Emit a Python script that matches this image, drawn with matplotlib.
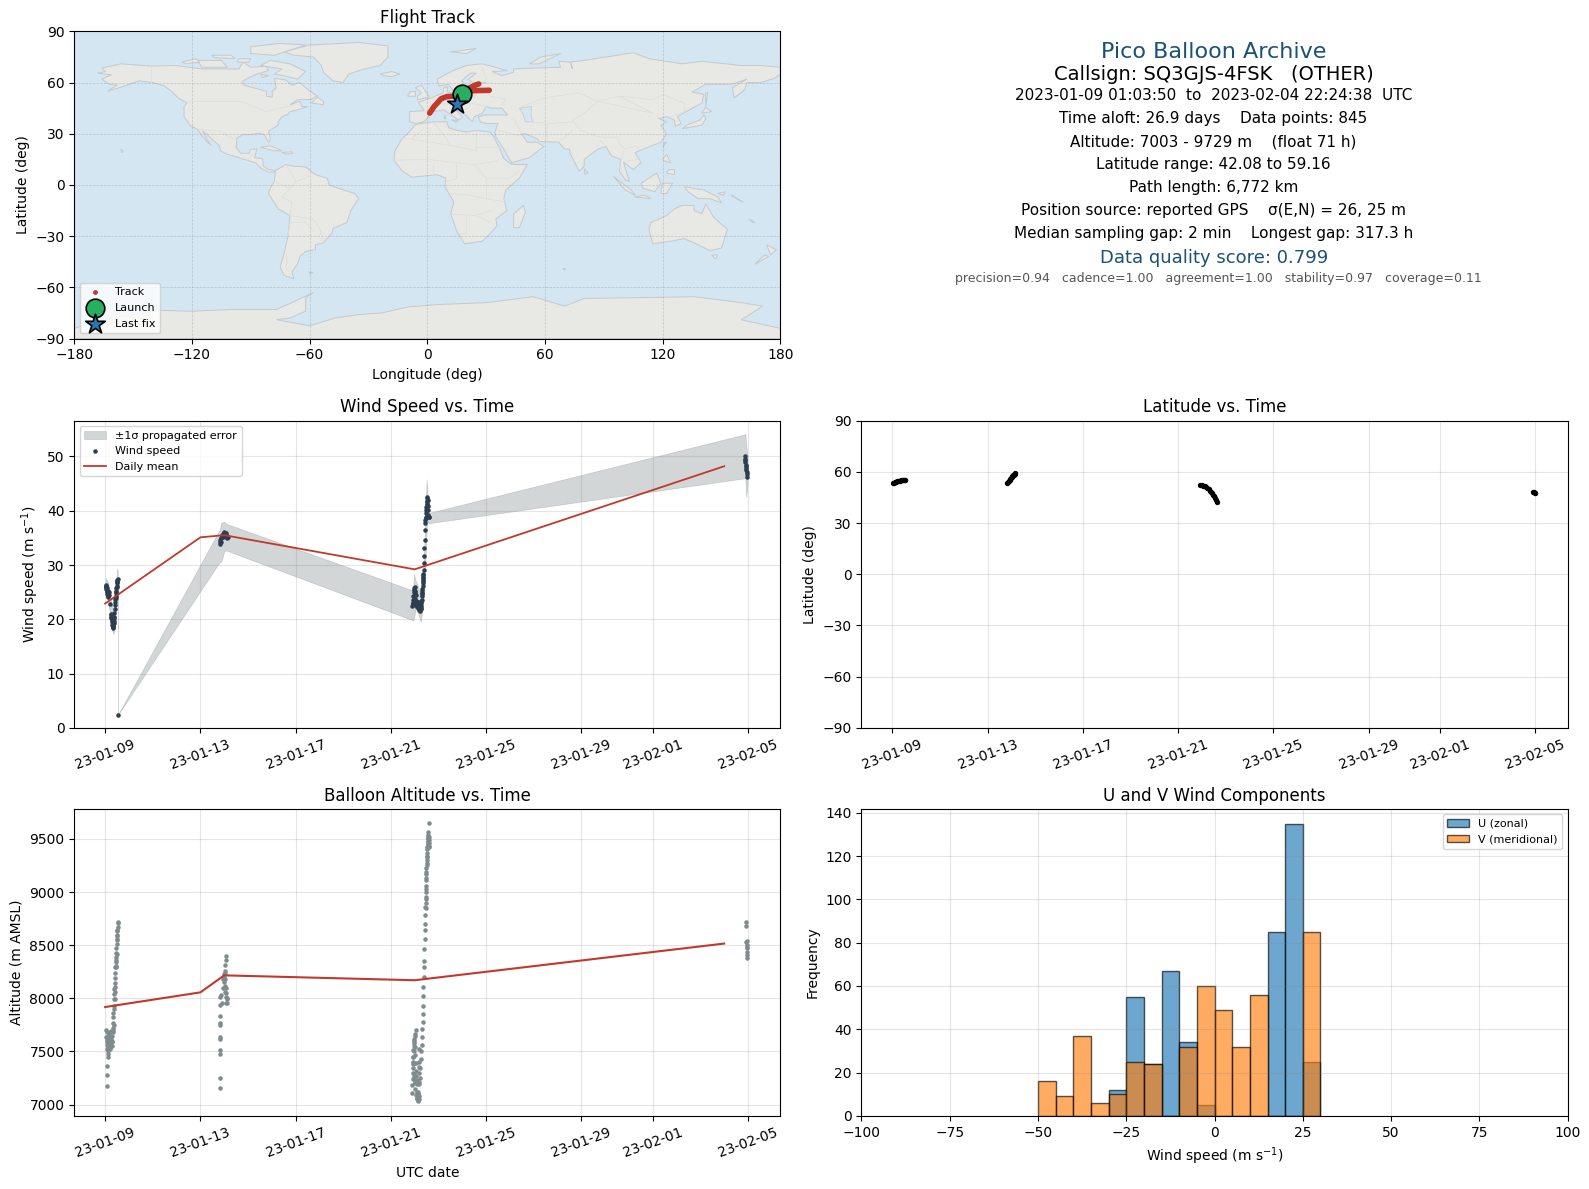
from datetime import datetime
import numpy as np
import matplotlib
matplotlib.use("Agg")
import matplotlib.pyplot as plt
import matplotlib.dates as mdates

# days since 2023-01-09 00:00 UTC
T0 = mdates.date2num(datetime(2023, 1, 9))

wind_t = [.02, .03, .04, .05, .06, .07, .08, .09, .1, .11, .12, .13, .14, .16, .2,
          .23, .24, .25, .26, .27, .28, .29, .3, .31, .32, .33, .34, .35, .36, .37,
          .38, .39, .4, .41, .42, .43, .44, .45, .46, .47, .48, .49, .5, .51, .52, .54,
          4.81, 4.82, 4.83, 4.85, 4.86, 4.88, 4.9, 4.92, 4.94, 4.96, 4.98, 5.0, 5.01, 5.03, 5.05,
          5.06, 5.08, 5.09, 5.1, 5.11, 5.13, 5.15,
          12.9, 12.91, 12.92, 12.93, 12.94, 12.95, 12.96, 12.97, 12.98, 12.99, 13.0, 13.01, 13.02,
          13.03, 13.04, 13.05, 13.06, 13.08, 13.1, 13.12, 13.14, 13.16, 13.18, 13.2, 13.22, 13.24,
          13.25, 13.26, 13.27, 13.28, 13.29, 13.3, 13.31, 13.32, 13.33, 13.34, 13.35, 13.36, 13.37,
          13.38, 13.39, 13.4, 13.41, 13.42, 13.43, 13.44, 13.45, 13.46, 13.47, 13.48, 13.49, 13.5,
          13.51, 13.52, 13.53, 13.54, 13.56, 13.58, 13.6,
          26.86, 26.87, 26.88, 26.89, 26.9, 26.91, 26.92, 26.93, 26.94, 26.95, 26.96,
          12.98, 13.0, 12.97, 12.95, 13.02, 13.05, 13.08, 13.11, 13.15, 13.17, 13.19, 13.21, 13.23,
          13.27, 13.29, 13.3, 13.33, 13.34, 13.36, 13.52, 13.53, 13.5, 13.48, 13.55, 13.57, 13.59,
          .3, .33, .35, .38, .05, .1, .14, .16, .44, .46, .48, .5]
wind_v = [26.3, 26.1, 25.9, 25.5, 25.7, 25.2, 25.0, 24.6, 24.3, 24.6, 24.1, 24.8, 25.0, 24.4, 22.9,
          20.7, 20.9, 20.2, 20.5, 19.8, 19.5, 20.1, 19.0, 19.3, 18.7, 18.4, 18.9, 18.5, 19.6, 20.3,
          20.5, 21.2, 21.9, 22.6, 23.1, 23.8, 24.3, 24.8, 25.3, 25.7, 26.2, 26.6, 27.0, 27.3, 27.4, 2.4,
          33.9, 34.2, 34.6, 34.3, 34.9, 35.0, 35.3, 35.6, 35.2, 35.8, 35.4, 35.9, 36.0, 35.5, 35.7,
          35.2, 35.6, 35.9, 35.3, 35.0, 35.4, 35.2,
          22.4, 23.0, 22.6, 23.5, 22.9, 24.2, 23.3, 25.0, 24.1, 25.8, 24.6, 26.0, 23.8,
          25.3, 23.1, 24.4, 22.6, 23.0, 22.3, 22.9, 22.2, 23.1, 22.5, 22.0, 21.8, 21.6,
          21.9, 22.4, 22.1, 23.0, 23.6, 24.2, 24.9, 25.6, 26.1, 26.7, 27.2, 27.7, 28.4,
          29.0, 30.4, 31.7, 33.2, 34.7, 36.5, 37.8, 38.3, 38.9, 39.5, 40.1, 40.7, 41.3,
          41.8, 42.3, 42.6, 42.0, 40.8, 39.2, 38.9,
          50.0, 49.6, 49.3, 48.9, 48.5, 48.2, 47.9, 47.6, 47.2, 46.8, 46.3,
          25.4, 25.1, 24.2, 23.0, 24.7, 23.3, 22.6, 23.2, 22.4, 21.8, 21.7, 22.2, 22.0,
          23.4, 24.6, 25.3, 27.0, 27.6, 28.1, 41.0, 41.7, 39.0, 38.6, 40.2, 39.0, 38.8,
          20.6, 19.8, 19.2, 19.4, 26.0, 25.3, 24.4, 25.0, 24.0, 25.0, 25.9, 26.8]

band_t = [.02, .12, .2, .28, .36, .42, .5, .53, .54, 4.82, 4.88, 5.0, 5.08,
          12.93, 12.97, 13.05, 13.15, 13.26, 13.35, 13.45, 13.5, 13.53, 13.6,
          26.89, 26.93, 26.98]
band_low = [24.5, 23.5, 21.0, 18.0, 17.3, 19.5, 24.5, 25.0, 2.4, 30.6, 30.6, 32.5, 32.7,
            19.8, 20.2, 22.0, 21.0, 19.5, 23.0, 30.0, 36.0, 38.0, 37.7,
            46.0, 42.5, 45.0]
band_high = [27.6, 26.8, 25.0, 22.5, 20.8, 24.0, 29.3, 29.0, 2.4, 36.6, 37.8, 38.0, 37.6,
             25.3, 28.3, 27.0, 26.0, 23.5, 28.0, 38.0, 45.8, 44.0, 39.6,
             54.1, 52.0, 50.0]

mean_t = [0, 4, 5, 13, 26]
wind_mean = [22.9, 35.1, 35.5, 29.2, 48.2]
alt_mean = [7918, 8056, 8216, 8170, 8515]

alt_t = [.08, .08, .08, .1, .12, .04, .05, .06, .07, .08, .09, .1, .11, .12, .13, .14, .15, .16, .17, .18,
         .19, .2, .21, .22, .24, .26, .28, .3, .31, .32, .33, .34, .35, .36, .37, .38, .39, .4, .41, .42,
         .43, .44, .45, .46, .47, .48, .49, .5, .51, .52, .53, .48, .5, .52, .49,
         4.83, 4.83, 4.83, 4.83, 4.83, 4.83, 4.83, 4.83, 4.83, 4.83, 4.84, 4.86, 4.9, 4.94, 4.96, 4.98,
         5.0, 5.01, 5.02, 5.03, 5.04, 5.05, 5.06, 5.07, 5.08, 5.09, 5.1, 5.11, 5.12, 5.03, 5.05, 5.07, 5.06,
         12.9, 12.9, 12.91, 12.92, 12.93, 12.94, 12.95, 12.96, 12.97, 12.98, 12.99, 13.0, 13.01, 13.02,
         13.03, 13.04, 13.05, 13.06, 13.07, 13.08, 13.09, 13.1, 13.11, 13.12, 13.13, 13.14, 13.15, 13.16,
         13.17, 13.18, 13.2, 13.22, 13.24, 13.26, 13.28, 13.3, 13.31, 13.32, 13.33, 13.34, 13.35, 13.36,
         13.37, 13.38, 13.39, 13.4, 13.41, 13.42, 13.43, 13.44, 13.45, 13.46, 13.47, 13.48, 13.49, 13.5,
         13.51, 13.52, 13.53, 13.54, 13.55, 13.56, 13.57, 13.58, 13.59, 13.6, 13.61, 13.6, 13.59,
         26.91, 26.92, 26.93, 26.94, 26.95, 26.95, 26.96, 26.96, 26.97, 26.97,
         13.46, 13.47, 13.46, 13.45, 13.47, 13.48, 13.48, 13.49, 13.49, 13.5, 13.5, 13.52, 13.52, 13.54,
         13.55, 13.55, 13.56, 13.57, 13.6, 13.58,
         13.0, 12.98, 12.97, 12.96, 12.95, 12.93, 12.92, 12.99, 13.02, 13.03, 13.05, 13.1, 13.12, 13.13,
         13.15, 13.17, 13.18, 13.19, 13.2, 13.2,
         .45, .46, .47, .48, .43, .42, .4, .38, .36, .34, .3, .27, .22, .15, .1, .07]
alt_v = [7179, 7282, 7367, 7450, 7480, 7700, 7640, 7560, 7680, 7610, 7520, 7650, 7590, 7540, 7620, 7500, 7560, 7670, 7590, 7530,
         7640, 7550, 7680, 7580, 7690, 7620, 7550, 7600, 7680, 7720, 7770, 7820, 7860, 7930, 7990, 8040, 8090, 8140, 8190, 8240,
         8290, 8340, 8390, 8430, 8470, 8510, 8550, 8590, 8630, 8670, 8710, 8560, 8640, 8720, 8600,
         7160, 7254, 7480, 7517, 7620, 7640, 7745, 7770, 7830, 7940, 8012, 8030, 7960, 8100, 8180, 8230,
         8200, 8150, 8240, 8120, 8180, 8060, 8100, 8010, 7960, 8050, 7990, 8000, 7960, 8260, 8310, 8360, 8400,
         7110, 7180, 7400, 7450, 7340, 7240, 7510, 7390, 7580, 7290, 7620, 7200, 7540, 7660,
         7470, 7270, 7700, 7390, 7320, 7230, 7120, 7190, 7060, 7040, 7100, 7030, 7060, 7120,
         7050, 7080, 7190, 7250, 7340, 7430, 7500, 7560, 7640, 7710, 7780, 7850, 7930, 8020,
         8110, 8200, 8290, 8350, 8460, 8560, 8640, 8700, 8860, 8950, 9030, 9110, 9190, 9270,
         9330, 9370, 9420, 9450, 9480, 9510, 9540, 9560, 9430, 9650, 9460, 9520, 9490,
         8720, 8680, 8530, 8500, 8470, 8440, 8410, 8380, 8540, 8480,
         8850, 8900, 8930, 8780, 9000, 9060, 9130, 9170, 9230, 9250, 9300, 9340, 9400, 9430,
         9470, 9510, 9530, 9450, 9420, 9500,
         7650, 7600, 7550, 7500, 7450, 7380, 7300, 7260, 7210, 7150, 7090, 7050, 7075, 7040,
         7100, 7210, 7300, 7350, 7400, 7520,
         8300, 8360, 8290, 8420, 8060, 8110, 7990, 7900, 7750, 7700, 7650, 7590, 7520, 7640, 7620, 7590]

lat_t = [.04, .08, .12, .16, .2, .24, .28, .32, .36, .4, .44, .48, .52, .55,
         4.83, 4.86, 4.89, 4.92, 4.95, 4.98, 5.01, 5.04, 5.07, 5.1, 5.13, 5.15,
         12.93, 12.99, 13.05, 13.11, 13.17, 13.23, 13.29, 13.34, 13.39, 13.43, 13.47, 13.51, 13.55, 13.59, 13.63,
         26.92, 26.95, 26.97, 26.98]
lat_v = [53.2, 53.5, 53.8, 54.0, 54.4, 54.6, 54.8, 54.9, 55.1, 55.2, 55.3, 55.4, 55.4, 55.5,
         53.5, 54.0, 54.6, 55.2, 55.8, 56.4, 57.0, 57.5, 58.0, 58.4, 58.8, 59.1,
         52.3, 52.1, 51.9, 51.5, 51.0, 50.5, 49.8, 49.0, 48.2, 47.4, 46.6, 45.6, 44.7, 43.6, 42.1,
         48.1, 47.9, 47.7, 47.5]

# three flight legs seen on the map
leg1_lon = [18.7, 21.5, 25.0, 29.0, 31.6]
leg1_lat = [55.0, 55.2, 55.3, 55.4, 55.5]
leg2_lon = [21.0, 23.0, 25.0, 26.2]
leg2_lat = [56.5, 57.7, 58.7, 59.2]
leg3_lon = [17.5, 13.5, 10.0, 7.0, 5.5, 3.5, 1.2]
leg3_lat = [52.3, 52.0, 51.8, 50.5, 48.5, 46.0, 42.1]
launch_lon, launch_lat = 17.5, 53.2
last_lon, last_lat = 15.0, 47.4

u_counts = [12, 55, 24, 67, 34, 5, 0, 0, 0, 85, 135, 25]
u_edges = [-30, -25, -20, -15, -10, -5, 0, 5, 10, 15, 20, 25]
v_counts = [16, 9, 37, 6, 10, 25, 24, 0, 32, 60, 49, 32, 56, 0, 0, 85]
v_edges = [-50, -45, -40, -35, -30, -25, -20, -15, -10, -5, 0, 5, 10, 15, 20, 25]

north_america = [(-164, 66.5), (-166, 68.5), (-156, 71), (-141, 69.7), (-128, 70), (-115, 68), (-108, 68), (-96, 68), (-94, 72),
                 (-90, 69), (-82, 69.5), (-81, 67), (-87, 65), (-94, 61), (-94, 58.7), (-88, 56.7), (-82, 55), (-82, 52),
                 (-79, 51.5), (-79, 55), (-77, 57), (-78, 62.5), (-72, 61.5), (-69, 58.5), (-65, 60), (-61, 56), (-56, 52),
                 (-60, 50), (-66, 50), (-70, 47), (-65, 49), (-64, 46), (-61, 46), (-66, 44), (-70, 43), (-71, 41.5), (-74, 40),
                 (-76, 37), (-76, 35), (-81, 31.5), (-80, 27), (-80.5, 25), (-82, 27), (-83, 29.5), (-86, 30.3), (-90, 29.5),
                 (-94, 29.5), (-97, 27.5), (-97.5, 22), (-95, 18.5), (-91, 18.5), (-90, 21), (-87, 21), (-88, 16), (-84, 15.5),
                 (-83.5, 11), (-81, 9), (-77.5, 8.5), (-78, 7.5), (-81, 7.5), (-85, 10), (-87.5, 13), (-92, 14.5), (-96, 16),
                 (-102, 18), (-105.5, 20), (-106, 23), (-109, 26), (-112.5, 30), (-114.5, 31.5), (-112, 26), (-110, 23),
                 (-112, 25), (-115, 29), (-117, 32.5), (-120.5, 34.5), (-122.5, 37.5), (-124, 40), (-124, 46), (-122.5, 48),
                 (-127, 51), (-130, 54.5), (-134, 58), (-140, 60), (-147, 61), (-152, 59), (-157, 57), (-163, 55), (-158, 58.5),
                 (-162, 59), (-166, 62), (-161, 64.5), (-168, 65.5)]
south_america = [(-77.3, 8.5), (-72, 12), (-68, 11), (-62, 10.5), (-57, 6), (-51, 4), (-50, 0), (-44, -2.5), (-37, -5),
                 (-35, -8), (-39, -15), (-41, -22), (-48, -25.5), (-48.5, -28), (-53, -34), (-57, -35), (-57, -38),
                 (-62, -39), (-65, -42), (-66, -46), (-69, -51), (-68, -55), (-73, -53), (-75, -48), (-73, -40),
                 (-71, -30), (-70, -18), (-76, -14), (-81, -5), (-80, -2), (-78, 2), (-77.5, 7)]
africa = [(-6, 35.5), (3, 37), (10, 37), (11, 33.5), (15, 32), (20, 31), (25, 32), (32, 31), (34, 28), (37, 21), (39, 15.5), (43, 12),
          (51, 12), (47, 4), (40, -3), (39, -8), (40.5, -15), (35, -20), (35.5, -24), (32.5, -28), (28, -33), (19, -34.5),
          (15, -27), (12, -17), (13.5, -10), (9, -1), (9.5, 4), (5, 6), (-4, 5), (-8, 4.5), (-13, 8.5), (-17, 14.5),
          (-16.5, 20), (-13, 27), (-10, 30)]
eurasia = [(-9, 37), (-9, 43), (-1.5, 43.5), (-4.5, 48.5), (2, 51), (8, 54), (8.5, 57), (10.5, 57.5), (10, 54.5), (14, 54),
           (19, 54.5), (21, 57), (24, 58), (24, 59.5), (30, 60), (23, 60), (21, 62), (25, 65.5), (22, 65.5), (17.5, 61),
           (18.5, 60), (16, 56), (13, 55.5), (11, 59), (6, 58), (5, 62), (13, 67), (20, 70), (28, 71), (41, 67), (33, 66.5),
           (38, 64), (44, 66), (44, 68), (54, 68.5), (68, 69), (67, 72.5), (73, 72), (74, 68), (73, 72), (80, 73),
           (105, 77.5), (113, 74), (130, 71), (140, 72.5), (160, 70), (170, 70), (180, 69), (180, 65), (177, 62.5),
           (170, 60), (163, 60), (162, 56), (156.5, 51), (155.5, 57), (163, 62), (155, 59), (142, 59), (135, 54.5),
           (141, 53), (140, 48), (132, 43), (127.5, 40), (129.5, 36), (126.5, 34.5), (126, 38), (122, 40), (118, 39),
           (122, 37), (119, 35), (122, 30), (119, 25), (110, 21), (106, 19), (109, 13), (105, 9), (100, 13.5), (103, 2),
           (101, 3), (98, 8), (98.5, 15), (94, 17), (91, 22.5), (87, 21), (80, 15), (80, 11), (77.5, 8), (73, 18),
           (72.5, 21), (70, 21), (67, 25), (57, 25.5), (56, 27), (50, 30), (48, 30), (51, 25), (56, 25), (59.5, 22.5), (52, 16),
           (43, 13), (39, 21), (35, 28), (34.5, 31), (36, 36), (30, 36), (27, 37), (26, 40), (29, 41), (41, 41), (38, 45),
           (33, 45), (30, 46), (28, 42), (24, 40), (23, 37), (19.5, 41), (13, 45.5), (18, 40), (16, 38), (8.5, 44),
           (3, 43), (0, 39), (-2, 37), (-5.5, 36)]
antarctica = [(-180, -90), (-180, -84), (-160, -78), (-136, -73.5), (-120, -74), (-100, -73), (-85, -73), (-77, -73),
              (-70, -69.5), (-58, -63), (-62, -66), (-62, -74), (-70, -78), (-77, -79), (-60, -82.5), (-47, -78),
              (-35, -76), (-23, -75), (-10, -71.5), (7, -70), (30, -69), (54, -65.5), (70, -71), (80, -66.5), (110, -66),
              (136, -65.5), (160, -69), (171, -71), (163, -77), (160, -79), (180, -84), (180, -90)]
islands = [
    [(-73, 78), (-60, 82), (-35, 83.5), (-20, 81.5), (-20, 75), (-24, 70), (-32, 68), (-40, 65), (-43, 60), (-48, 61), (-53, 66), (-54, 70), (-58, 75), (-68, 76)],
    [(-80, 73), (-70, 71), (-62, 66.5), (-66, 62), (-73, 64), (-78, 65), (-74, 68), (-85, 70)],
    [(-117, 73), (-105, 73), (-102, 69), (-115, 69)],
    [(-90, 77), (-78, 76), (-62, 82), (-75, 83), (-90, 81)],
    [(-125, 72), (-118, 74), (-116, 72), (-123, 71)],
    [(-110, 76), (-100, 76), (-98, 74), (-108, 74.5)],
    [(-96, 74), (-90, 74), (-91, 72), (-97, 72)],
    [(-85, 65), (-81, 64), (-84, 63)],
    [(-59, 48), (-53, 47), (-53, 49), (-56, 51.5)],
    [(-85, 22), (-80, 23), (-74, 20), (-78, 20)],
    [(-74, 19), (-69, 19.5), (-68.5, 18.5), (-72, 18)],
    [(-156, 21), (-155, 19.5), (-156, 19)],
    [(-24, 65), (-18, 66.5), (-14, 65), (-18, 63.5), (-22, 64)],
    [(-5, 50), (1, 51.5), (-1, 55), (-3, 58.5), (-6, 57), (-3, 54), (-5, 52)],
    [(-10, 52), (-6, 52), (-6, 55), (-9, 54.5)],
    [(130, 33), (135, 34), (140, 35), (142, 39), (141, 41), (139, 38), (133, 35.5)],
    [(140, 42), (145, 43), (142, 45.5)],
    [(142, 46), (143, 54), (142, 54)],
    [(120, 22), (122, 25), (121, 25)],
    [(120, 15), (122, 18), (124, 13), (121, 14)],
    [(122, 7), (126, 6), (126, 9), (123, 9)],
    [(95, 5), (104, -3), (106, -6), (101, -3)],
    [(105.5, -7), (114, -8), (111, -6)],
    [(109, 1), (117, 7), (119, 1), (116, -4), (110, -2)],
    [(120, 1), (125, 1), (122, -5), (119, -5)],
    [(131, -1), (141, -3), (148, -7), (150, -10.5), (144, -8), (138, -8), (133, -4)],
    [(148, -5), (152, -4), (151, -6)],
    [(155, -6), (161, -10), (159, -9)],
    [(114, -22), (122, -18), (126, -14), (130, -12), (136, -12), (136, -15), (140, -17), (142, -11), (146, -19), (153, -26), (150, -37), (144, -38.5), (138, -35), (131, -31.5), (124, -33), (115, -34.5), (113, -26)],
    [(145, -41), (148, -41), (147, -43.5)],
    [(173, -35), (178, -38), (175, -41)],
    [(172, -41), (174, -42), (167, -46.5)],
    [(164, -20), (167, -22), (166, -22)],
    [(49, -12), (50, -16), (47, -25), (44, -25), (44, -17)],
    [(80, 9.5), (82, 7), (80.5, 6)],
    [(12, 78), (25, 80), (20, 77)],
    [(52, 71), (57, 71), (68, 77), (58, 75)],
    [(-60, -51), (-58, -51.5), (-60, -52)],
    [(69, -49), (70.5, -49), (70, -50)],
    [(9, 41), (9.5, 39), (8.5, 39)],
    [(12.5, 38), (15.5, 38), (15, 36.8)],
]
caspian = [(47, 45), (53, 46), (53, 40), (54, 37), (50, 37), (49, 41)]
borders = [
    [(-141, 70), (-141, 60)], [(-123, 49), (-95, 49), (-82, 43), (-75, 45), (-67, 47)],
    [(-117, 32.5), (-106, 31.5), (-97, 26)], [(-92, 14.5), (-89, 18)],
    [(-70, -18), (-69, -10), (-74, -7), (-70, -2), (-67, 2), (-60, 5)], [(-70, -18), (-58, -20), (-55, -25), (-53, -34)],
    [(-71, -30), (-70, -22), (-62, -22), (-58, -27)], [(-72, -40), (-72, -50)],
    [(-78, 2), (-70, -2)], [(-72, 12), (-67, 2)],
    [(-13, 27), (-8, 27), (12, 23), (25, 20), (25, 32)], [(25, 22), (37, 22)], [(-8, 27), (-2, 33)],
    [(3, 37), (8, 30), (12, 23)], [(-17, 14.5), (0, 15), (15, 13), (24, 12), (36, 14)],
    [(3, 6), (3, 12)], [(15, 13), (15, 4), (10, 2)], [(24, 12), (30, 4), (35, 4), (42, 4), (47, 8)],
    [(12, -5), (22, -6), (30, -8), (40, -10)], [(12, -17), (24, -18), (33, -15)], [(20, -18), (20, -28), (17, -29)],
    [(30, -8), (30, 4)], [(25, -18), (32, -22)],
    [(2, 51), (7, 49), (8, 47.5), (13, 48), (17, 48), (22, 48), (30, 46)], [(14, 54), (15, 51), (24, 51), (24, 54), (21, 55)],
    [(24, 59), (28, 56), (32, 52), (40, 50), (38, 47)], [(-1.5, 43.5), (3, 43)], [(28, 69), (30, 62), (30, 60)],
    [(48, 46), (60, 51), (77, 54), (87, 49)], [(87, 49), (98, 52), (115, 50), (120, 53), (131, 48), (131, 43)],
    [(87, 49), (80, 42), (74, 38), (78, 32), (88, 28), (97, 28), (98, 24), (101, 21), (106, 23), (108, 21.5)],
    [(60, 37), (54, 37)], [(61, 25), (61, 36), (74, 37)], [(44, 39), (48, 30)], [(36, 32), (46, 29), (48, 30)],
    [(67, 25), (74, 32)], [(88, 26), (92, 22)], [(100, 20), (98, 10)], [(102, 14), (108, 15)],
    [(98, 52), (115, 42), (87, 49)], [(124, 40), (130, 42.5)],
]

LAND = "#e8e8e4"
COAST = "#c4cacd"
WATER = "#d4e6f1"
RED = "#c0392b"
NAVY = "#1a5276"

plt.rcParams["font.family"] = "DejaVu Sans"
fig = plt.figure(figsize=(15.89, 11.89), dpi=100)
ax_map = fig.add_axes((0.0467, 0.7153, 0.4444, 0.2583))
ax_wind = fig.add_axes((0.0467, 0.3879, 0.4444, 0.2583))
ax_lat = fig.add_axes((0.5421, 0.3879, 0.4445, 0.2583))
ax_alt = fig.add_axes((0.0467, 0.0614, 0.4444, 0.2583))
ax_hist = fig.add_axes((0.5421, 0.0614, 0.4445, 0.2583))

# --- map
ax_map.set_facecolor(WATER)
for poly in [north_america, south_america, africa, eurasia, antarctica] + islands:
    xs, ys = zip(*poly)
    ax_map.fill(xs, ys, facecolor=LAND, edgecolor=COAST, linewidth=0.7, zorder=1)
xs, ys = zip(*caspian)
ax_map.fill(xs, ys, facecolor=WATER, edgecolor=COAST, linewidth=0.5, zorder=1.1)
for line in borders:
    xs, ys = zip(*line)
    ax_map.plot(xs, ys, color="#dcdedb", linewidth=0.5, zorder=1.2)
for leg_lon, leg_lat in [(leg1_lon, leg1_lat), (leg2_lon, leg2_lat), (leg3_lon, leg3_lat)]:
    ax_map.plot(leg_lon, leg_lat, color=RED, linewidth=4, solid_capstyle="round", zorder=3)
ax_map.scatter([], [], s=6, color=RED, label="Track")
ax_map.scatter(launch_lon, launch_lat, s=180, color="#27ae60", edgecolor="black", linewidth=1.2, label="Launch", zorder=4)
ax_map.scatter(last_lon, last_lat, s=220, marker="*", color="#2878b5", edgecolor="black", linewidth=1.2, label="Last fix", zorder=5)
ax_map.set_xlim(-180, 180)
ax_map.set_ylim(-90, 90)
ax_map.set_xticks(range(-180, 181, 60))
ax_map.set_yticks(range(-90, 91, 30))
ax_map.grid(True, color="gray", linestyle="--", linewidth=0.5, alpha=0.35)
ax_map.set_xlabel("Longitude (deg)")
ax_map.set_ylabel("Latitude (deg)")
ax_map.set_title("Flight Track", fontsize=12)
ax_map.legend(loc="lower left", fontsize=8, labelspacing=0.5, borderpad=0.4)

# --- wind
days = np.array(wind_t) + T0
ax_wind.fill_between(np.array(band_t) + T0, band_low, band_high, color="#7f8c8d", alpha=0.35, linewidth=0.5, label="\u00b11\u03c3 propagated error")
ax_wind.scatter(days, wind_v, s=5, color="#2c3e50", label="Wind speed", zorder=3)
ax_wind.plot(np.array(mean_t) + T0, wind_mean, color=RED, linewidth=1.3, label="Daily mean", zorder=4)
ax_wind.set_ylim(0, 56.6)
ax_wind.set_ylabel("Wind speed (m s$^{-1}$)")
ax_wind.set_title("Wind Speed vs. Time", fontsize=12)
ax_wind.legend(loc="upper left", fontsize=8)

# --- latitude
ax_lat.scatter(np.array(lat_t) + T0, lat_v, s=8, color="black", zorder=3)
ax_lat.set_ylim(-90, 90)
ax_lat.set_yticks(range(-90, 91, 30))
ax_lat.set_ylabel("Latitude (deg)")
ax_lat.set_title("Latitude vs. Time", fontsize=12)

# --- altitude
ax_alt.scatter(np.array(alt_t) + T0, alt_v, s=5, color="#7f8c8d", zorder=3)
ax_alt.plot(np.array(mean_t) + T0, alt_mean, color=RED, linewidth=1.5, zorder=4)
ax_alt.set_ylim(6893, 9782)
ax_alt.set_ylabel("Altitude (m AMSL)")
ax_alt.set_xlabel("UTC date")
ax_alt.set_title("Balloon Altitude vs. Time", fontsize=12)

tick_dates = [datetime(2023, 1, 9), datetime(2023, 1, 13), datetime(2023, 1, 17), datetime(2023, 1, 21),
              datetime(2023, 1, 25), datetime(2023, 1, 29), datetime(2023, 2, 1), datetime(2023, 2, 5)]
for ax in (ax_wind, ax_lat, ax_alt):
    ax.set_xlim(T0 - 1.30, T0 + 28.36)
    ax.set_xticks(mdates.date2num(tick_dates))
    ax.xaxis.set_major_formatter(mdates.DateFormatter("%y-%m-%d"))
    ax.tick_params(axis="x", labelrotation=20)
    ax.grid(True, color="gray", alpha=0.2)

# --- histogram
ax_hist.bar(u_edges, u_counts, width=5, align="edge", color="C0", alpha=0.65, edgecolor="black", label="U (zonal)")
ax_hist.bar(v_edges, v_counts, width=5, align="edge", color="C1", alpha=0.65, edgecolor="black", label="V (meridional)")
ax_hist.set_xlim(-100, 100)
ax_hist.set_ylim(0, 141.75)
ax_hist.set_xlabel("Wind speed (m s$^{-1}$)")
ax_hist.set_ylabel("Frequency")
ax_hist.set_title("U and V Wind Components", fontsize=12)
ax_hist.grid(True, color="gray", alpha=0.2)
ax_hist.legend(loc="upper right", fontsize=8)

# --- summary panel
cx = 0.7637
fig.text(cx, 0.9565, "Pico Balloon Archive", ha="center", va="center", fontsize=16, color=NAVY)
fig.text(cx, 0.9377, "Callsign: SQ3GJS-4FSK   (OTHER)", ha="center", va="center", fontsize=14)
lines = ["2023-01-09 01:03:50  to  2023-02-04 22:24:38  UTC",
         "Time aloft: 26.9 days    Data points: 845",
         "Altitude: 7003 - 9729 m    (float 71 h)",
         "Latitude range: 42.08 to 59.16",
         "Path length: 6,772 km",
         "Position source: reported GPS    \u03c3(E,N) = 26, 25 m",
         "Median sampling gap: 2 min    Longest gap: 317.3 h"]
line_y = [0.9198, 0.9002, 0.8806, 0.8619, 0.8422, 0.8226, 0.8035]
for s, y in zip(lines, line_y):
    fig.text(cx, y, s, ha="center", va="center", fontsize=11)
fig.text(cx + 0.0004, 0.7826, "Data quality score: 0.799", ha="center", va="center", fontsize=13, color=NAVY)
fig.text(cx + 0.0028, 0.7655, "precision=0.94   cadence=1.00   agreement=1.00   stability=0.97   coverage=0.11",
         ha="center", va="center", fontsize=9, color="#555555")

fig.savefig("out.png", dpi=100)
